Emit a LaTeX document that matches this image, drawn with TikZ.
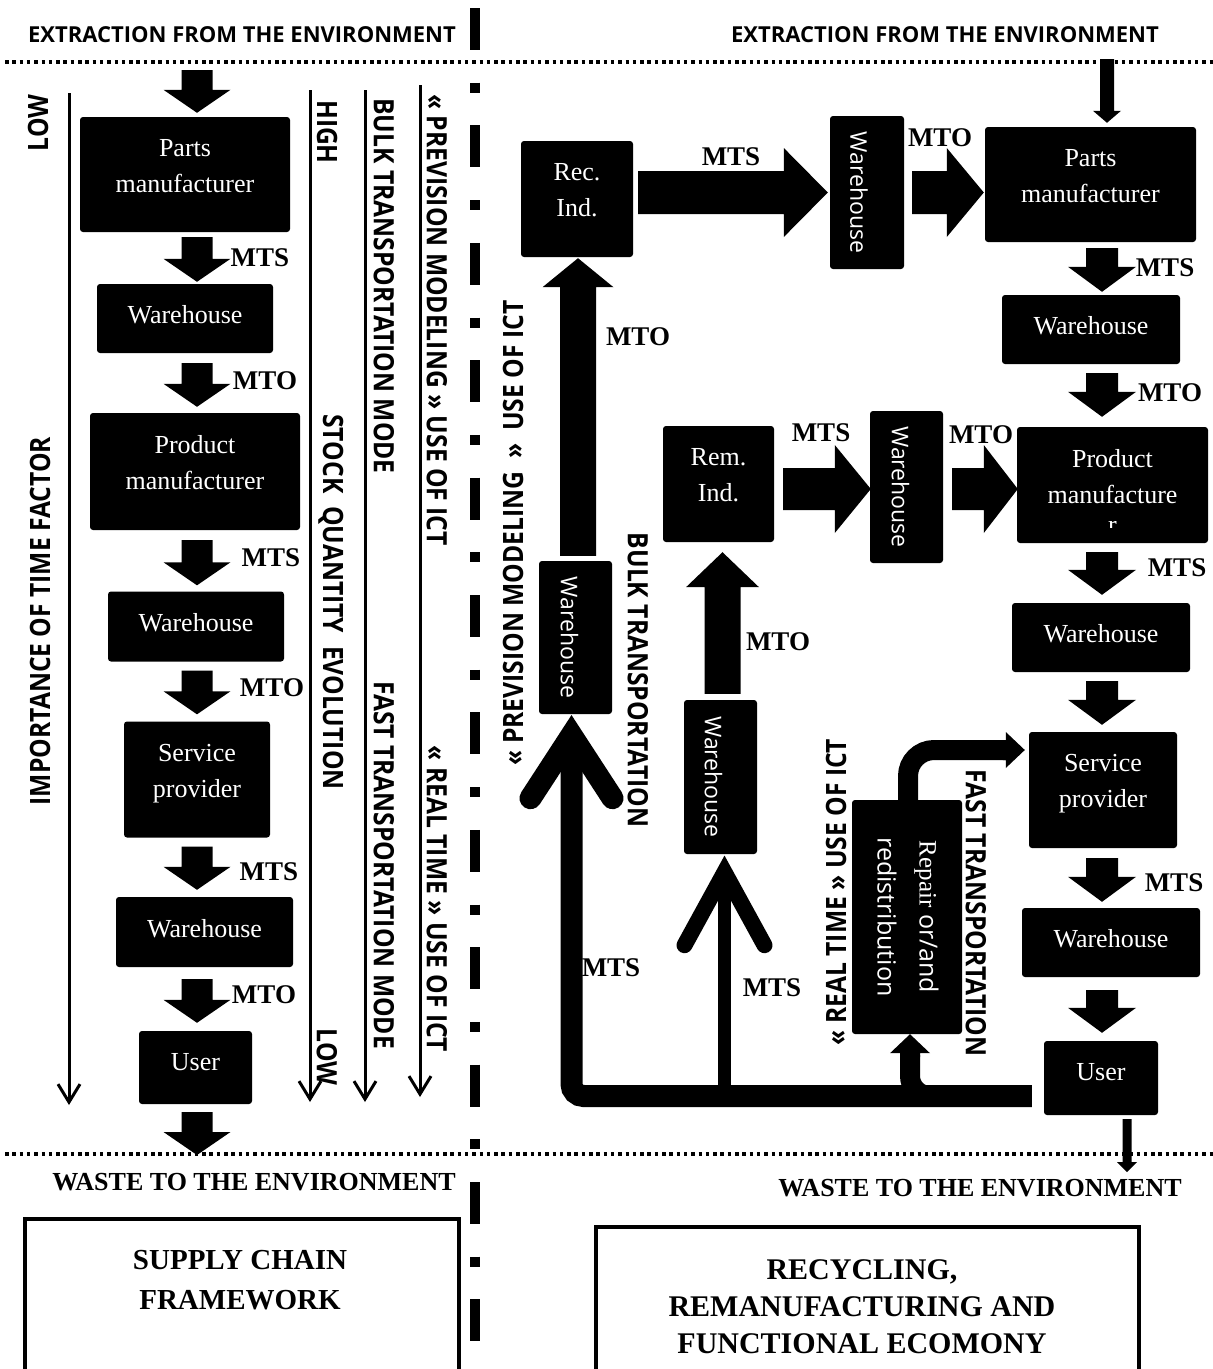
\documentclass[tikz,border=0pt]{standalone}
\usepackage{fontspec}
\setmainfont{Liberation Serif}
\newfontfamily\hdrfont{Open Sans}
\usepackage{graphicx}
\usetikzlibrary{arrows.meta,calc,positioning}

% fat block arrow: tail, tip, half shaft, half head, head length
\newcommand\fatarrow[5]{%
  \coordinate (fatT) at #1;
  \coordinate (fatH) at #2;
  \coordinate (fatB) at ($(fatH)!#5!(fatT)$);
  \fill ($(fatT)!#3!90:(fatH)$) -- ($(fatB)!#3!90:(fatH)$) -- ($(fatB)!#4!90:(fatH)$) -- (fatH)
    -- ($(fatB)!#4!-90:(fatH)$) -- ($(fatB)!#3!-90:(fatH)$) -- ($(fatT)!#3!-90:(fatH)$) -- cycle;}

\begin{document}
\begin{tikzpicture}[
  x=1pt, y=-1pt,
  blk/.style={fill=black, text=white, rounded corners=3pt, inner sep=0pt, align=center,
    font=\fontsize{26}{36}\selectfont, text depth=8pt},
  blktwo/.style={blk, text depth=18pt},
  vblk/.style={fill=black, text=white, rounded corners=3pt, inner sep=0pt,
    font=\hdrfont\fontsize{23}{30}\selectfont},
  mlbl/.style={font=\bfseries\fontsize{27}{27}\selectfont, inner sep=0pt},
  axlab/.style={font=\hdrfont\bfseries\fontsize{28}{30}\selectfont, inner sep=0pt, xscale=.88},
  hdr/.style={font=\hdrfont\bfseries\fontsize{22}{24}\selectfont, inner sep=0pt},
  waste/.style={font=\bfseries\fontsize{26}{26}\selectfont, inner sep=0pt},
  frm/.style={draw=black, line width=4pt, inner sep=0pt},
  btxt/.style={font=\bfseries\fontsize{29}{40}\selectfont, align=center, inner sep=0pt},
  dotln/.style={line width=4pt, dash pattern=on 3.5pt off 3.8pt},
  ctrln/.style={line width=10pt, dash pattern=on 42pt off 32.7pt on 10pt off 32.7pt},
  axln/.style={line width=3pt, -{Straight Barb[length=18pt,width=22pt]}},
  loopln/.style={line width=22pt},
  barbln/.style={line cap=round, miter limit=10}
]
\path[use as bounding box, fill=white] (0,0) rectangle (1213,1369);

% frame lines
\node[hdr] (extrL) at (242,35) {EXTRACTION FROM THE ENVIRONMENT};
\node[hdr] (extrR) at (945,35) {EXTRACTION FROM THE ENVIRONMENT};
\draw[dotln] (5,62) -- (1213,62);
\draw[dotln] (5,1154) -- (1213,1154);
\draw[ctrln] (475,8) -- (475,1343);
\node[waste] (wasteTxtL) at (254,1182) {WASTE TO THE ENVIRONMENT};
\node[waste] (wasteTxtR) at (980,1188) {WASTE TO THE ENVIRONMENT};

% left column --- supply chain
\coordinate (colL) at (197,0);
\coordinate (srcL) at (197,70);
\coordinate (sinkL) at (197,1155);
\node[blktwo, minimum width=210pt, minimum height=115pt] (partsL) at (185,174.5) {Parts\\manufacturer};
\node[blk, minimum width=176pt, minimum height=69pt] (whL1) at (185,318.5) {Warehouse};
\node[blktwo, minimum width=210pt, minimum height=117pt] (prodL) at (195,471.5) {Product\\manufacturer};
\node[blk, minimum width=176pt, minimum height=70pt] (whL2) at (196,626.5) {Warehouse};
\node[blktwo, minimum width=146pt, minimum height=116pt] (servL) at (197,779.5) {Service\\provider};
\node[blk, minimum width=177pt, minimum height=70pt] (whL3) at (204.5,932) {Warehouse};
\node[blk, minimum width=113pt, minimum height=73pt, text depth=12pt] (userL) at (195.5,1067.5) {User};

\fatarrow{(srcL)}{($(colL |- partsL.north)+(0,-4)$)}{15.5pt}{33.5pt}{23pt}
\fatarrow{($(colL |- partsL.south)+(0,5)$)}{($(colL |- whL1.north)+(0,-2)$)}{15.5pt}{33.5pt}{23pt}
\fatarrow{($(colL |- whL1.south)+(0,10)$)}{($(colL |- prodL.north)+(0,-6)$)}{15.5pt}{33.5pt}{23pt}
\fatarrow{($(colL |- prodL.south)+(0,10)$)}{($(colL |- whL2.north)+(0,-6)$)}{15.5pt}{33.5pt}{23pt}
\fatarrow{($(colL |- whL2.south)+(0,9)$)}{($(colL |- servL.north)+(0,-7)$)}{15.5pt}{33.5pt}{23pt}
\fatarrow{($(colL |- servL.south)+(0,9)$)}{($(colL |- whL3.north)+(0,-7)$)}{15.5pt}{33.5pt}{23pt}
\fatarrow{($(colL |- whL3.south)+(0,12)$)}{($(colL |- userL.north)+(0,-8)$)}{15.5pt}{33.5pt}{23pt}
\fatarrow{($(colL |- userL.south)+(0,8)$)}{(sinkL)}{15.5pt}{33.5pt}{23pt}

\node[mlbl] (mL1) at (260,258) {MTS};
\node[mlbl] (mL2) at (265,381) {MTO};
\node[mlbl] (mL3) at (271,558) {MTS};
\node[mlbl] (mL4) at (272,688) {MTO};
\node[mlbl] (mL5) at (269,872) {MTS};
\node[mlbl] (mL6) at (264,995) {MTO};

% left axes
\coordinate (tfTop) at (69,93);    \coordinate (tfBot) at (69,1105);
\coordinate (stTop) at (310,90);   \coordinate (stBot) at (310,1102);
\coordinate (trTop) at (365,90);   \coordinate (trBot) at (365,1102);
\coordinate (ictTop) at (420,85);  \coordinate (ictBot) at (420,1097);
\draw[axln] (tfTop) -- (tfBot);
\draw[axln] (stTop) -- (stBot);
\draw[axln] (trTop) -- (trBot);
\draw[axln] (ictTop) -- (ictBot);
\node[rotate=90, axlab] (lowA) at (38,123) {LOW};
\node[rotate=90, axlab] (timeLab) at (40,621) {IMPORTANCE OF TIME FACTOR};
\node[rotate=-90, axlab] (highB) at (327,132) {HIGH};
\node[rotate=-90, axlab] (stockLab) at (331,602) {STOCK~ QUANTITY~ EVOLUTION};
\node[rotate=-90, axlab] (lowB) at (327,1057) {LOW};
\node[rotate=-90, axlab] (bulkL) at (384,286) {BULK TRANSPORTATION MODE};
\node[rotate=-90, axlab] (fastL) at (384,865) {FAST TRANSPORTATION MODE};
\node[rotate=-90, axlab] (prevL) at (437,320) {« PREVISION MODELING » USE OF ICT};
\node[rotate=-90, axlab] (realL) at (437,899) {« REAL TIME » USE OF ICT};

% right part --- recycling loop
\coordinate (colR) at (1102,0);
\coordinate (srcR) at (1107,59);
\coordinate (sinkR) at (1127,1172);
\node[blktwo, minimum width=112pt, minimum height=116pt] (rec) at (577,199) {Rec.\\Ind.};
\node[vblk, minimum width=74pt, minimum height=153pt] (whT) at (867,192.5) {\rotatebox{-90}{Warehouse}\hspace*{16pt}};
\node[blktwo, minimum width=211pt, minimum height=115pt] (partsR) at (1090.5,184.5) {Parts\\manufacturer};
\node[blk, minimum width=178pt, minimum height=69pt] (whR1) at (1091,329.5) {Warehouse};
\node[blktwo, minimum width=111pt, minimum height=116pt] (rem) at (718.5,484) {Rem.\\Ind.};
\node[vblk, minimum width=73pt, minimum height=152pt] (whM) at (906.5,487) {\rotatebox{-90}{Warehouse}\hspace*{12pt}};
\node[blktwo, minimum width=191pt, minimum height=116pt] (prodR) at (1112.5,485) {Product\\manufacture};
\begin{scope}
  \clip ($(prodR.south west)+(0,-22)$) rectangle ($(prodR.south east)+(0,-16)$);
  \node[anchor=north, inner sep=0pt, text=white, font=\fontsize{26}{36}\selectfont] (prodRr) at ($(prodR.south)+(0,-22)$) {r};
\end{scope}
\node[blk, minimum width=178pt, minimum height=69pt] (whR2) at (1101,637.5) {Warehouse};
\node[vblk, minimum width=73pt, minimum height=153pt] (whP) at (575.5,637.5) {\rotatebox{-90}{Warehouse}\hspace*{12pt}};
\node[vblk, minimum width=73pt, minimum height=154pt] (whB) at (720.5,777) {\rotatebox{-90}{Warehouse}\hspace*{14pt}};
\node[vblk, minimum width=110pt, minimum height=234pt, font=\hdrfont\fontsize{25}{42}\selectfont] (rep) at (907,917)
  {\rotatebox{-90}{\begin{tabular}{@{}c@{}}{\rmfamily Repair} or/and\\redistribution\end{tabular}}};
\node[blktwo, minimum width=148pt, minimum height=116pt] (servR) at (1103,790) {Service\\provider};
\node[blk, minimum width=178pt, minimum height=69pt] (whR3) at (1111,942.5) {Warehouse};
\node[blk, minimum width=114pt, minimum height=74pt, text depth=12pt] (userR) at (1101,1078) {User};

% flows between the industries
\fatarrow{($(rec.east)+(5,-6.5)$)}{($(whT.west)+(-2,0)$)}{21.5pt}{44.5pt}{44pt}
\fatarrow{($(whT.east)+(8,0)$)}{($(partsR.west)+(-1,8)$)}{21.5pt}{44.5pt}{37pt}
\fatarrow{($(rem.east)+(9,5)$)}{($(whM.west)+(1,2)$)}{21pt}{44pt}{36pt}
\fatarrow{($(whM.east)+(9,2)$)}{($(prodR.west)+(1,4)$)}{21pt}{44pt}{34pt}
\fatarrow{($(whP.north)+(2.5,-5)$)}{($(rec.south)+(1,1)$)}{18pt}{35.5pt}{29pt}
\fatarrow{($(whB.north)+(2,-6)$)}{($(rem.south)+(4,10)$)}{18pt}{36.5pt}{35pt}

% right column down flow
\fatarrow{(srcR)}{($(srcR |- partsR.north)+(0,-4)$)}{7pt}{14pt}{12pt}
\fatarrow{($(colR |- partsR.south)+(0,6)$)}{($(colR |- whR1.north)+(0,-3)$)}{16pt}{34pt}{25pt}
\fatarrow{($(colR |- whR1.south)+(0,9)$)}{($(colR |- prodR.north)+(0,-10)$)}{16pt}{34pt}{25pt}
\fatarrow{($(colR |- prodR.south)+(0,9)$)}{($(colR |- whR2.north)+(0,-8)$)}{16pt}{34pt}{25pt}
\fatarrow{($(colR |- whR2.south)+(0,9)$)}{($(colR |- servR.north)+(0,-7)$)}{16pt}{34pt}{25pt}
\fatarrow{($(colR |- servR.south)+(0,10)$)}{($(colR |- whR3.north)+(0,-6)$)}{16pt}{34pt}{25pt}
\fatarrow{($(colR |- whR3.south)+(0,13)$)}{($(colR |- userR.north)+(0,-8)$)}{16pt}{34pt}{25pt}
\fatarrow{($(sinkR |- userR.south)+(0,4)$)}{(sinkR)}{4.5pt}{10pt}{10pt}

% return loop from the user
\coordinate (jP) at ($(whP.south)+(-4,21)$);
\coordinate (jB) at ($(whB.south)+(4,18)$);
\draw[loopln, rounded corners=12pt] ($(userR.west)+(-12,18)$) -| (jP);
\draw[loopln, barbln] ($(jP)+(-41,63)$) -- (jP) -- ($(jP)+(41,63)$);
\draw[line width=13pt] ($(jB |- userR.west)+(0,18)$) -- (jB);
\draw[line width=16pt, barbln] ($(jB)+(-40,73)$) -- (jB) -- ($(jB)+(40,73)$);
\draw[line width=20pt, rounded corners=20pt] ($(userR.west)+(-60,18)$) -| ($(rep.south)+(3,21)$);
\fatarrow{($(rep.south)+(3,23)$)}{($(rep.south)+(3,0)$)}{10pt}{20pt}{19pt}
\draw[line width=20pt, rounded corners=26pt] ($(rep.north)+(1,2)$) |- ($(servR.west)+(-22,-40)$);
\fatarrow{($(servR.west)+(-26,-40)$)}{($(servR.west)+(-4,-40)$)}{10pt}{18pt}{19pt}

\node[mlbl] (mR1) at (731,157) {MTS};
\node[mlbl] (mR2) at (940,138) {MTO};
\node[mlbl] (mR3) at (1165,268) {MTS};
\node[mlbl] (mR4) at (1170,393) {MTO};
\node[mlbl] (mR5) at (638,337) {MTO};
\node[mlbl] (mR6) at (821,433) {MTS};
\node[mlbl] (mR7) at (981,435) {MTO};
\node[mlbl] (mR8) at (1177,568) {MTS};
\node[mlbl] (mR9) at (778,642) {MTO};
\node[mlbl] (mR10) at (1174,883) {MTS};
\node[mlbl] (mR11) at (611,968) {MTS};
\node[mlbl] (mR12) at (772,988) {MTS};

\node[rotate=90, axlab] (prevR) at (513,533) {« PREVISION MODELING~ »~ USE OF ICT};
\node[rotate=-90, axlab] (bulkR) at (638,680) {BULK TRANSPORTATION};
\node[rotate=90, axlab] (realR) at (836,892) {« REAL TIME » USE OF ICT};
\node[rotate=-90, axlab] (fastR) at (976,913) {FAST TRANSPORTATION};

% captions
\node[frm, minimum width=434pt, minimum height=156pt] (scfBox) at (242,1297) {};
\node[btxt] (scfTxt) at (240,1280) {SUPPLY CHAIN\\FRAMEWORK};
\node[frm, minimum width=543pt, minimum height=148pt] (rrfBox) at (867.5,1301) {};
\node[btxt, font=\bfseries\fontsize{30}{37}\selectfont] (rrfTxt) at (862,1307)
  {RECYCLING,\\REMANUFACTURING AND\\FUNCTIONAL ECOMONY};
\end{tikzpicture}
\end{document}
